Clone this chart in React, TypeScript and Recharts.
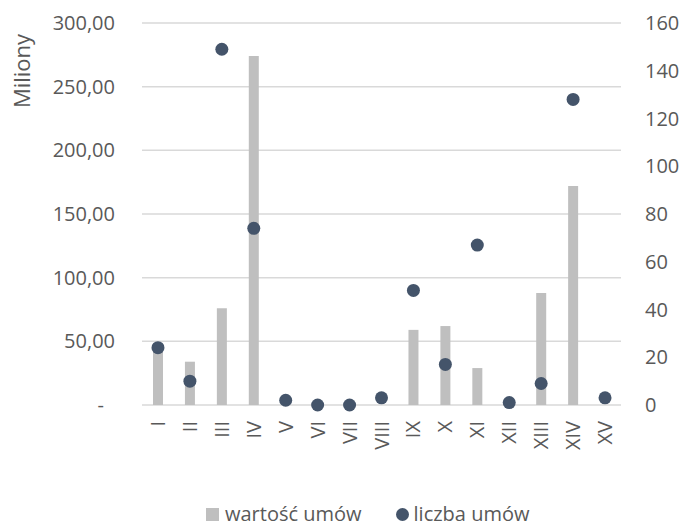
import { Bar, CartesianGrid, ComposedChart, Scatter, XAxis, YAxis } from "recharts"

const BAR = "#bfbfbf"
const DOT = "#44546a"
const GRID = "#d9d9d9"
const TEXT = "#595959"
const FONT = "'Open Sans', sans-serif"

const months = ["I", "II", "III", "IV", "V", "VI", "VII", "VIII", "IX", "X", "XI", "XII", "XIII", "XIV", "XV"]
// wartość umów (mln)
const values = [45, 34, 76, 274, 0, 0, 0, 0, 59, 62, 29, 0, 88, 172, 0]
// liczba umów
const counts = [24, 10, 149, 74, 2, 0, 0, 3, 48, 17, 67, 1, 9, 128, 3]

const leftTicks = [0, 50, 100, 150, 200, 250, 300]
const rightTicks = [0, 20, 40, 60, 80, 100, 120, 140, 160]

const data = months.map((m, i) => ({ m, wartosc: values[i], liczba: counts[i] }))

function LeftTick({ x, y, payload }: any) {
  const v = payload.value as number
  const label = v === 0 ? "-" : v.toFixed(2).replace(".", ",")
  return (
    <text x={v === 0 ? x - 11 : x} y={y} dy="0.35em" textAnchor="end" fill={TEXT} fontSize={20} fontFamily={FONT}>
      {label}
    </text>
  )
}

function MonthTick({ x, y, payload }: any) {
  return (
    <text
      x={x}
      y={y}
      dy="0.35em"
      textAnchor="end"
      transform={`rotate(-90, ${x}, ${y})`}
      fill={TEXT}
      fontSize={20}
      fontFamily={FONT}
    >
      {payload.value}
    </text>
  )
}

const Dot = (p: any) => <circle cx={p.cx} cy={p.cy} r={6.5} fill={DOT} />

export default function App() {
  return (
    <div style={{ position: "absolute", left: 0, top: 0, width: 681, height: 527, background: "#fff", fontFamily: FONT }}>
      <ComposedChart width={681} height={527} data={data} margin={{ top: 23, right: 0, left: 0, bottom: 62 }}>
        <CartesianGrid yAxisId="left" vertical={false} stroke={GRID} strokeWidth={1.5} />
        <XAxis
          dataKey="m"
          height={60}
          axisLine={false}
          tickLine={false}
          tickSize={0}
          tickMargin={16}
          interval={0}
          tick={<MonthTick />}
        />
        <YAxis
          yAxisId="left"
          width={142}
          domain={[0, 300]}
          ticks={leftTicks}
          axisLine={false}
          tickLine={false}
          tickSize={0}
          tickMargin={27}
          tick={<LeftTick />}
        />
        <YAxis
          yAxisId="right"
          orientation="right"
          width={60}
          domain={[0, 160]}
          ticks={rightTicks}
          axisLine={false}
          tickLine={false}
          tickSize={0}
          tickMargin={24}
          tick={{ fill: TEXT, fontSize: 20, fontFamily: FONT, textAnchor: "start" }}
        />
        <Bar yAxisId="left" dataKey="wartosc" fill={BAR} barSize={10} isAnimationActive={false} />
        <Scatter yAxisId="right" dataKey="liczba" fill={DOT} shape={Dot} isAnimationActive={false} />
      </ComposedChart>

      <div
        style={{
          position: "absolute",
          left: 8,
          top: 31,
          width: 26,
          height: 80,
          display: "flex",
          alignItems: "center",
          justifyContent: "center",
        }}
      >
        <span style={{ transform: "rotate(-90deg)", whiteSpace: "nowrap", color: TEXT, fontSize: 22 }}>Miliony</span>
      </div>

      <div
        style={{
          position: "absolute",
          left: 206,
          top: 500,
          display: "flex",
          alignItems: "center",
          color: TEXT,
          fontSize: 20,
          lineHeight: "28px",
        }}
      >
        <span style={{ width: 13, height: 13, background: BAR, marginRight: 6 }} />
        <span>wartość umów</span>
        <span style={{ width: 13, height: 13, borderRadius: "50%", background: DOT, marginLeft: 34, marginRight: 5 }} />
        <span>liczba umów</span>
      </div>
    </div>
  )
}
